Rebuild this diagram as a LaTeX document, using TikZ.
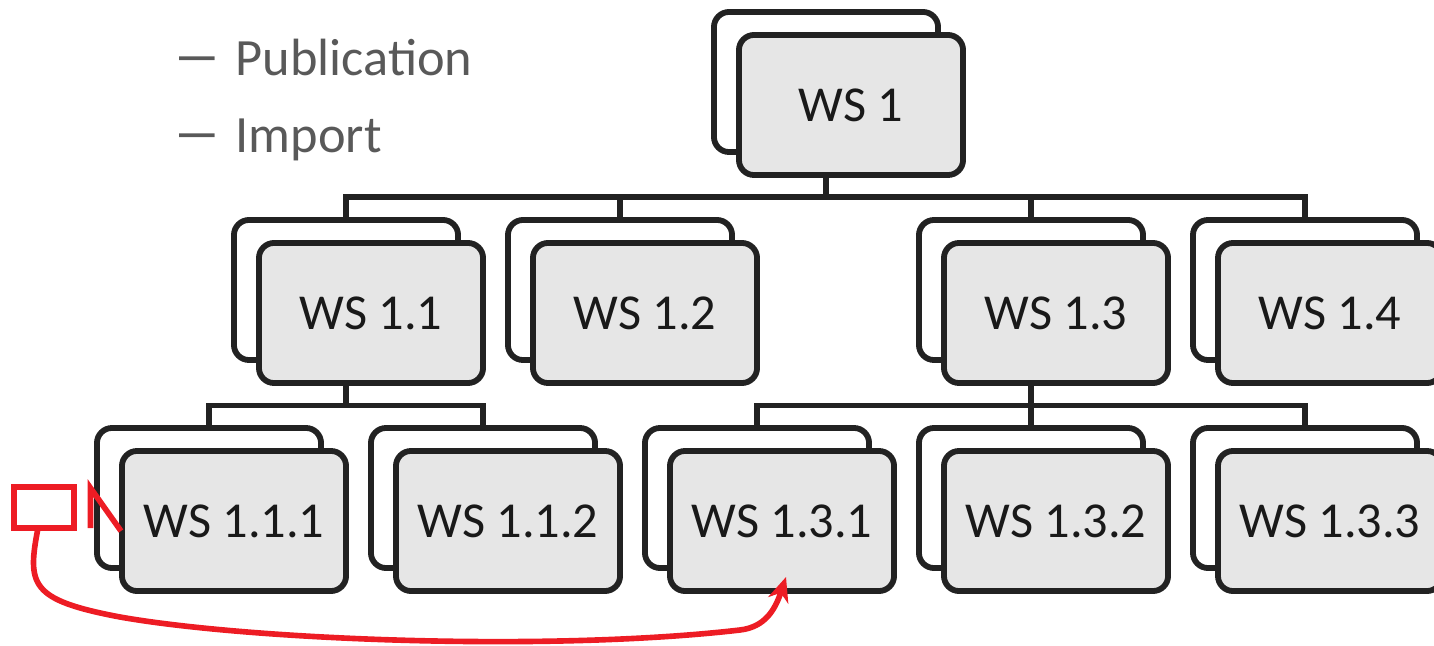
\documentclass[tikz,border=0pt]{standalone}
\usepackage{fontspec}
\setmainfont{Carlito}
\usepackage{graphicx}
\usepackage{xcolor}
\usetikzlibrary{arrows.meta,positioning,calc}

\definecolor{boxline}{HTML}{222222}
\definecolor{boxfill}{HTML}{E6E6E6}
\definecolor{notered}{HTML}{ED1C24}
\definecolor{bullettext}{HTML}{595959}

\begin{document}
\begin{tikzpicture}[
  x=0.01cm, y=-0.01cm,
  font=\fontsize{14.3}{17}\selectfont,
  >={Stealth[length=7pt,width=6pt]},
  card/.style={
    draw=boxline,
    line width=1.65pt,
    rounded corners=4.3pt,
    minimum width=2.24cm,
    minimum height=1.40cm,
    inner sep=0pt,
    outer sep=0pt
  },
  back/.style={card, fill=white},
  front/.style={card, fill=boxfill, text=black!90},
  link/.style={draw=boxline, line width=1.5pt},
  redline/.style={draw=notered, line width=1.6pt},
  bullet/.style={
    anchor=base west,
    inner sep=0pt,
    text=bullettext,
    font=\fontsize{14.9}{17}\selectfont
  }
]
  \clip (0,0) rectangle (1434,646);

  % Bullet lines
  \node[bullet] (d0) at (172,0) {\scalebox{1.9}[1.15]{–}};
  \node[bullet] (coll) at (235,0) {Collects};
  \node[bullet] (d1) at (172,76) {\scalebox{1.9}[1.15]{–}};
  \node[bullet] (pub) at (235,76) {Publication};
  \node[bullet] (d2) at (172,153) {\scalebox{1.9}[1.15]{–}};
  \node[bullet] (imp) at (235,153) {Import};

  % Top level
  \node[back] (ws1b) at (826,82) {};
  \node[front] (ws1) at ([shift={(25,23)}]ws1b) {WS 1};

  % Second level
  \node[back] (ws11b) at (346,290) {};
  \node[front] (ws11) at ([shift={(25,23)}]ws11b) {WS 1.1};
  \node[back] (ws12b) at (620,290) {};
  \node[front] (ws12) at ([shift={(25,23)}]ws12b) {WS 1.2};
  \node[back] (ws13b) at (1031,290) {};
  \node[front] (ws13) at ([shift={(25,23)}]ws13b) {WS 1.3};
  \node[back] (ws14b) at (1305,290) {};
  \node[front] (ws14) at ([shift={(25,23)}]ws14b) {WS 1.4};

  % Third level
  \node[back] (ws111b) at (209,498) {};
  \node[front] (ws111) at ([shift={(25,23)}]ws111b) {WS 1.1.1};
  \node[back] (ws112b) at (483,498) {};
  \node[front] (ws112) at ([shift={(25,23)}]ws112b) {WS 1.1.2};
  \node[back] (ws131b) at (757,498) {};
  \node[front] (ws131) at ([shift={(25,23)}]ws131b) {WS 1.3.1};
  \node[back] (ws132b) at (1031,498) {};
  \node[front] (ws132) at ([shift={(25,23)}]ws132b) {WS 1.3.2};
  \node[back] (ws133b) at (1305,498) {};
  \node[front] (ws133) at ([shift={(25,23)}]ws133b) {WS 1.3.3};

  % Tree links
  \foreach \c in {ws11b,ws12b,ws13b,ws14b}
    \draw[link] (ws1b |- ws1.south) -- ++(0,22) -| (\c.north);
  \foreach \c in {ws111b,ws112b}
    \draw[link] (ws11b |- ws11.south) -- ++(0,22.5) -| (\c.north);
  \foreach \c in {ws131b,ws132b,ws133b}
    \draw[link] (ws13b |- ws13.south) -- ++(0,22.5) -| (\c.north);

  % Red note
  \node[redline, minimum width=0.60cm, minimum height=0.41cm,
    inner sep=0pt, outer sep=0pt] (sel) at (44,507.5) {};
  \coordinate (tickT) at (90.5,488);
  \coordinate (tickB) at (90.5,528);
  \coordinate (tickE) at (121,531);
  \draw[redline] (tickB) -- (tickT) -- (tickE);

  \coordinate (tip) at (786,577);
  \draw[redline,->] ([xshift=-1.7pt]sel.south)
    .. controls (27,585) and (30,600) .. (120,617)
    .. controls (250,640) and (550,652) .. (740,630)
    .. controls (765,627) and (775,610) .. (tip);
\end{tikzpicture}
\end{document}
